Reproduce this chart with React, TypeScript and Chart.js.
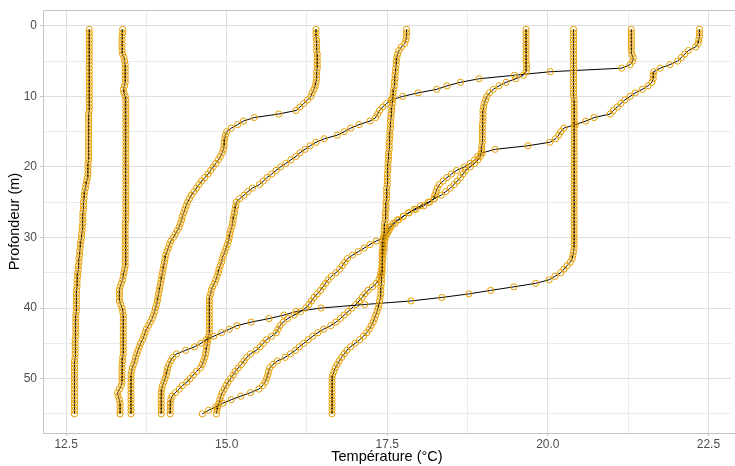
import React, { useEffect, useRef } from 'react';
import { Chart, registerables } from 'chart.js';

Chart.register(...registerables);

// Depth of each measurement (m)
const depths = [
  0.5, 1, 1.5, 2, 2.5, 3, 3.5, 4, 4.5, 5,
  5.5, 6, 6.5, 7, 7.5, 8, 8.5, 9, 9.5, 10,
  10.5, 11, 11.5, 12, 12.5, 13, 13.5, 14, 14.5, 15,
  15.5, 16, 16.5, 17, 17.5, 18, 18.5, 19, 19.5, 20,
  20.5, 21, 21.5, 22, 22.5, 23, 23.5, 24, 24.5, 25,
  25.5, 26, 26.5, 27, 27.5, 28, 28.5, 29, 29.5, 30,
  30.5, 31, 31.5, 32, 32.5, 33, 33.5, 34, 34.5, 35,
  35.5, 36, 36.5, 37, 37.5, 38, 38.5, 39, 39.5, 40,
  40.5, 41, 41.5, 42, 42.5, 43, 43.5, 44, 44.5, 45,
  45.5, 46, 46.5, 47, 47.5, 48, 48.5, 49, 49.5, 50,
  50.5, 51, 51.5, 52, 52.5, 53, 53.5, 54, 54.5, 55,
];

// Temperature profiles (°C), one value per depth
const profile1 = [
  12.86, 12.86, 12.86, 12.86, 12.86, 12.86, 12.86, 12.86, 12.86, 12.86,
  12.86, 12.86, 12.86, 12.86, 12.86, 12.86, 12.86, 12.86, 12.86, 12.86,
  12.86, 12.86, 12.86, 12.86, 12.85, 12.85, 12.85, 12.85, 12.85, 12.85,
  12.85, 12.85, 12.85, 12.85, 12.85, 12.85, 12.85, 12.85, 12.84, 12.84,
  12.84, 12.84, 12.83, 12.82, 12.81, 12.80, 12.79, 12.78, 12.78, 12.77,
  12.77, 12.77, 12.76, 12.76, 12.76, 12.76, 12.75, 12.75, 12.74, 12.74,
  12.73, 12.72, 12.72, 12.71, 12.71, 12.70, 12.70, 12.69, 12.69, 12.68,
  12.68, 12.67, 12.67, 12.67, 12.66, 12.66, 12.66, 12.66, 12.66, 12.66,
  12.66, 12.65, 12.65, 12.65, 12.65, 12.65, 12.65, 12.65, 12.64, 12.64,
  12.64, 12.64, 12.64, 12.64, 12.63, 12.63, 12.63, 12.63, 12.63, 12.63,
  12.63, 12.63, 12.63, 12.63, 12.63, 12.63, 12.63, 12.63, 12.63, 12.63,
];

const profile2 = [
  13.38, 13.38, 13.37, 13.37, 13.37, 13.37, 13.37, 13.38, 13.40, 13.41,
  13.42, 13.42, 13.42, 13.42, 13.42, 13.42, 13.41, 13.39, 13.40, 13.42,
  13.43, 13.43, 13.43, 13.43, 13.43, 13.43, 13.43, 13.43, 13.43, 13.43,
  13.43, 13.43, 13.43, 13.43, 13.43, 13.43, 13.43, 13.43, 13.43, 13.43,
  13.43, 13.43, 13.43, 13.43, 13.43, 13.43, 13.43, 13.43, 13.43, 13.43,
  13.43, 13.43, 13.43, 13.43, 13.43, 13.42, 13.42, 13.42, 13.42, 13.42,
  13.42, 13.42, 13.42, 13.42, 13.42, 13.42, 13.42, 13.42, 13.41, 13.40,
  13.39, 13.38, 13.36, 13.34, 13.33, 13.33, 13.33, 13.33, 13.35, 13.37,
  13.38, 13.39, 13.39, 13.39, 13.39, 13.39, 13.39, 13.39, 13.39, 13.39,
  13.39, 13.39, 13.39, 13.38, 13.38, 13.37, 13.37, 13.37, 13.37, 13.37,
  13.37, 13.36, 13.33, 13.30, 13.31, 13.33, 13.34, 13.34, 13.34, 13.34,
];

const profile3 = [
  16.39, 16.39, 16.39, 16.40, 16.40, 16.40, 16.40, 16.41, 16.41, 16.41,
  16.41, 16.41, 16.40, 16.40, 16.40, 16.39, 16.38, 16.36, 16.33, 16.31,
  16.26, 16.20, 16.14, 16.08, 15.81, 15.43, 15.26, 15.17, 15.07, 15.00,
  14.98, 14.97, 14.96, 14.96, 14.95, 14.93, 14.90, 14.87, 14.83, 14.79,
  14.75, 14.71, 14.66, 14.61, 14.57, 14.53, 14.49, 14.45, 14.42, 14.39,
  14.37, 14.35, 14.33, 14.31, 14.30, 14.28, 14.26, 14.23, 14.20, 14.17,
  14.13, 14.11, 14.09, 14.07, 14.05, 14.04, 14.03, 14.02, 14.01, 14.00,
  13.99, 13.98, 13.97, 13.96, 13.95, 13.94, 13.93, 13.92, 13.91, 13.89,
  13.88, 13.86, 13.84, 13.81, 13.78, 13.75, 13.73, 13.71, 13.69, 13.66,
  13.64, 13.62, 13.60, 13.58, 13.57, 13.55, 13.53, 13.52, 13.51, 13.51,
  13.51, 13.51, 13.51, 13.51, 13.51, 13.51, 13.51, 13.51, 13.51, 13.51,
];

const profile4 = [
  17.80, 17.80, 17.80, 17.79, 17.77, 17.72, 17.68, 17.66, 17.65, 17.64,
  17.64, 17.63, 17.63, 17.62, 17.62, 17.61, 17.61, 17.60, 17.59, 17.59,
  17.58, 17.58, 17.57, 17.57, 17.56, 17.56, 17.55, 17.55, 17.55, 17.54,
  17.54, 17.54, 17.53, 17.53, 17.53, 17.52, 17.52, 17.52, 17.51, 17.51,
  17.51, 17.50, 17.50, 17.50, 17.50, 17.49, 17.49, 17.49, 17.49, 17.48,
  17.48, 17.48, 17.47, 17.47, 17.47, 17.46, 17.46, 17.45, 17.45, 17.44,
  17.43, 17.43, 17.43, 17.42, 17.42, 17.42, 17.42, 17.42, 17.42, 17.42,
  17.41, 17.41, 17.41, 17.40, 17.40, 17.40, 17.39, 17.38, 17.37, 17.36,
  17.34, 17.32, 17.30, 17.28, 17.25, 17.22, 17.18, 17.13, 17.07, 17.00,
  16.93, 16.87, 16.83, 16.79, 16.75, 16.72, 16.69, 16.67, 16.65, 16.64,
  16.64, 16.64, 16.64, 16.64, 16.64, 16.64, 16.64, 16.64, 16.64, 16.64,
];

const profile5 = [
  19.66, 19.66, 19.66, 19.66, 19.66, 19.66, 19.66, 19.66, 19.66, 19.66,
  19.67, 19.67, 19.66, 19.62, 19.50, 19.35, 19.24, 19.15, 19.09, 19.05,
  19.03, 19.01, 19.00, 18.99, 18.99, 18.99, 18.99, 18.98, 18.98, 18.98,
  18.98, 18.98, 18.98, 18.97, 18.97, 18.96, 18.95, 18.91, 18.86, 18.79,
  18.72, 18.68, 18.64, 18.59, 18.54, 18.48, 18.41, 18.34, 18.23, 18.14,
  18.02, 17.92, 17.84, 17.75, 17.66, 17.59, 17.54, 17.51, 17.48, 17.45,
  17.33, 17.23, 17.14, 17.05, 16.96, 16.88, 16.84, 16.80, 16.76, 16.70,
  16.63, 16.58, 16.54, 16.50, 16.46, 16.41, 16.36, 16.32, 16.28, 16.23,
  16.15, 16.05, 15.95, 15.88, 15.83, 15.80, 15.77, 15.70, 15.62, 15.57,
  15.52, 15.46, 15.37, 15.31, 15.27, 15.23, 15.18, 15.13, 15.10, 15.06,
  15.02, 14.99, 14.96, 14.93, 14.91, 14.89, 14.88, 14.86, 14.85, 14.84,
];

const profile6 = [
  20.40, 20.40, 20.40, 20.40, 20.40, 20.40, 20.40, 20.40, 20.40, 20.40,
  20.40, 20.40, 20.40, 20.40, 20.40, 20.40, 20.40, 20.40, 20.40, 20.40,
  20.41, 20.41, 20.41, 20.41, 20.41, 20.41, 20.41, 20.41, 20.41, 20.41,
  20.41, 20.41, 20.41, 20.41, 20.41, 20.41, 20.41, 20.41, 20.41, 20.41,
  20.41, 20.41, 20.41, 20.41, 20.41, 20.41, 20.41, 20.41, 20.41, 20.41,
  20.41, 20.41, 20.41, 20.41, 20.41, 20.41, 20.41, 20.41, 20.41, 20.41,
  20.41, 20.41, 20.41, 20.40, 20.39, 20.38, 20.35, 20.30, 20.25, 20.20,
  20.11, 20.02, 19.81, 19.47, 19.11, 18.77, 18.35, 17.87, 17.15, 16.47,
  16.08, 15.89, 15.66, 15.38, 15.16, 15.04, 14.92, 14.80, 14.68, 14.60,
  14.50, 14.36, 14.22, 14.16, 14.13, 14.10, 14.08, 14.07, 14.06, 14.04,
  14.02, 14.00, 13.99, 13.98, 13.98, 13.98, 13.98, 13.98, 13.98, 13.98,
];

const profile7 = [
  21.30, 21.30, 21.30, 21.30, 21.30, 21.30, 21.30, 21.31, 21.33, 21.32,
  21.28, 21.15, 20.04, 19.48, 18.93, 18.64, 18.43, 18.27, 17.98, 17.74,
  17.56, 17.49, 17.43, 17.38, 17.35, 17.32, 17.23, 17.06, 16.93, 16.83,
  16.72, 16.52, 16.39, 16.30, 16.22, 16.14, 16.08, 16.00, 15.92, 15.84,
  15.77, 15.70, 15.63, 15.57, 15.51, 15.40, 15.33, 15.27, 15.20, 15.15,
  15.14, 15.13, 15.12, 15.11, 15.10, 15.09, 15.08, 15.06, 15.05, 15.04,
  15.03, 15.01, 14.99, 14.97, 14.95, 14.93, 14.92, 14.90, 14.88, 14.87,
  14.85, 14.83, 14.81, 14.78, 14.76, 14.75, 14.73, 14.73, 14.73, 14.73,
  14.73, 14.73, 14.73, 14.73, 14.73, 14.73, 14.73, 14.72, 14.71, 14.70,
  14.69, 14.68, 14.67, 14.66, 14.64, 14.62, 14.59, 14.53, 14.48, 14.43,
  14.38, 14.31, 14.26, 14.20, 14.15, 14.13, 14.12, 14.12, 14.12, 14.12,
];

const profile8 = [
  22.36, 22.36, 22.36, 22.35, 22.34, 22.30, 22.19, 22.13, 22.08, 22.02,
  21.90, 21.75, 21.65, 21.64, 21.64, 21.62, 21.56, 21.47, 21.36, 21.28,
  21.20, 21.14, 21.08, 21.02, 20.97, 20.72, 20.59, 20.43, 20.25, 20.20,
  20.17, 20.12, 20.03, 19.69, 19.18, 18.98, 18.91, 18.86, 18.79, 18.70,
  18.58, 18.50, 18.43, 18.37, 18.31, 18.28, 18.26, 18.24, 18.23, 18.16,
  18.07, 17.95, 17.83, 17.75, 17.68, 17.62, 17.56, 17.53, 17.50, 17.47,
  17.46, 17.45, 17.45, 17.44, 17.43, 17.43, 17.42, 17.42, 17.41, 17.40,
  17.39, 17.37, 17.33, 17.27, 17.20, 17.15, 17.11, 17.06, 17.01, 16.95,
  16.89, 16.83, 16.77, 16.70, 16.62, 16.51, 16.42, 16.34, 16.27, 16.20,
  16.13, 16.07, 15.99, 15.91, 15.79, 15.72, 15.67, 15.65, 15.64, 15.62,
  15.60, 15.56, 15.50, 15.37, 15.22, 15.07, 14.94, 14.83, 14.72, 14.62,
];

const profiles = [profile1, profile2, profile3, profile4, profile5, profile6, profile7, profile8];

// Axis ticks (major labelled, minor unlabelled)
const xTickValues = [12.5, 13.75, 15, 16.25, 17.5, 18.75, 20, 21.25, 22.5];
const xTickLabels = ['12.5', '', '15.0', '', '17.5', '', '20.0', '', '22.5'];
const yTickValues = [0, 5, 10, 15, 20, 25, 30, 35, 40, 45, 50, 55];
const yTickLabels = ['0', '', '10', '', '20', '', '30', '', '40', '', '50', ''];

const xTitle = 'Température (°C)';
const yTitle = 'Profondeur (m)';

const FONT = "'Liberation Sans', Arial, Helvetica, sans-serif";

export default function App() {
  const canvasRef = useRef<HTMLCanvasElement | null>(null);

  useEffect(() => {
    document.body.style.margin = '0';
    const canvas = canvasRef.current;
    if (!canvas) return;

    const datasets = profiles.map((temps) => ({
      data: temps.map((t, i) => ({ x: t, y: depths[i] })),
      showLine: true,
      borderColor: '#000000',
      borderWidth: 1,
      tension: 0,
      fill: false,
      pointRadius: 3.1,
      pointHoverRadius: 3.1,
      pointBorderWidth: 1,
      pointBorderColor: '#E69F00',
      pointBackgroundColor: 'rgba(0,0,0,0)',
    }));

    const isMajorX = (v: number) => xTickLabels[xTickValues.indexOf(v)] !== '';
    const isMajorY = (v: number) => yTickLabels[yTickValues.indexOf(v)] !== '';

    const framePlugin = {
      id: 'panelFrame',
      beforeDatasetsDraw(chart: any) {
        const { ctx, chartArea: a, width } = chart;
        ctx.save();
        ctx.strokeStyle = '#c4c4c4';
        ctx.lineWidth = 1;
        ctx.beginPath();
        const top = Math.round(a.top) + 0.5;
        const bottom = Math.round(a.bottom) + 0.5;
        const left = Math.round(a.left) + 0.5;
        ctx.moveTo(width, top);
        ctx.lineTo(left, top);
        ctx.lineTo(left, bottom);
        ctx.lineTo(width, bottom);
        ctx.stroke();
        ctx.restore();
      },
    };

    const chart = new Chart(canvas, {
      type: 'scatter',
      data: { datasets },
      options: {
        animation: false,
        responsive: false,
        devicePixelRatio: 1,
        events: [],
        layout: { padding: { left: 0, right: 3, top: 6, bottom: 0 } },
        plugins: {
          legend: { display: false },
          tooltip: { enabled: false },
        },
        scales: {
          x: {
            type: 'linear',
            min: 12.14,
            max: 22.85,
            afterBuildTicks: (scale: any) => {
              scale.ticks = xTickValues.map((v) => ({ value: v }));
            },
            afterFit: (scale: any) => {
              scale.height = 33;
            },
            grid: {
              color: (ctx: any) => (ctx.tick && isMajorX(ctx.tick.value) ? '#dedede' : '#ebebeb'),
              lineWidth: 1,
              drawTicks: true,
              tickLength: 3,
              tickColor: (ctx: any) => (ctx.tick && isMajorX(ctx.tick.value) ? '#c4c4c4' : 'rgba(0,0,0,0)'),
            },
            border: { display: false },
            ticks: {
              autoSkip: false,
              maxRotation: 0,
              padding: 1,
              color: '#4d4d4d',
              font: { family: FONT, size: 12 },
              callback: (value: any) => {
                const i = xTickValues.indexOf(Number(value));
                return i >= 0 ? xTickLabels[i] : '';
              },
            },
            title: {
              display: true,
              text: xTitle,
              color: '#000000',
              font: { family: FONT, size: 14.5 },
              padding: { top: 0, bottom: 0 },
            },
          },
          y: {
            type: 'linear',
            reverse: true,
            min: -2.22,
            max: 57.72,
            afterBuildTicks: (scale: any) => {
              scale.ticks = yTickValues.map((v) => ({ value: v }));
            },
            afterFit: (scale: any) => {
              scale.width = 43;
            },
            grid: {
              color: (ctx: any) => (ctx.tick && isMajorY(ctx.tick.value) ? '#dedede' : '#ebebeb'),
              lineWidth: 1,
              drawTicks: true,
              tickLength: 3,
              tickColor: (ctx: any) => (ctx.tick && isMajorY(ctx.tick.value) ? '#c4c4c4' : 'rgba(0,0,0,0)'),
            },
            border: { display: false },
            ticks: {
              autoSkip: false,
              padding: 3,
              color: '#4d4d4d',
              font: { family: FONT, size: 12 },
              callback: (value: any) => {
                const i = yTickValues.indexOf(Number(value));
                return i >= 0 ? yTickLabels[i] : '';
              },
            },
            title: {
              display: true,
              text: yTitle,
              color: '#000000',
              font: { family: FONT, size: 14.5 },
              padding: { top: 6, bottom: 0 },
            },
          },
        },
      },
      plugins: [framePlugin],
    });

    return () => {
      chart.destroy();
    };
  }, []);

  return (
    <div style={{ position: 'relative', width: 735, height: 466 }}>
      <canvas ref={canvasRef} width={735} height={466} style={{ display: 'block', width: 735, height: 466 }} />
    </div>
  );
}
